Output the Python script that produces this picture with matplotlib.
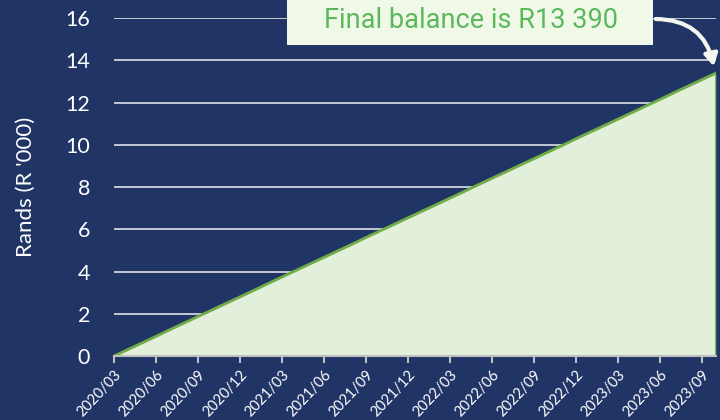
import matplotlib
matplotlib.use("Agg")
import matplotlib.pyplot as plt
from matplotlib.patches import FancyArrowPatch, Rectangle
import pandas as pd

# Month-end balance of the savings account, in R '000
months = [str(p).replace("-", "/") for p in pd.period_range("2020-03", "2023-10", freq="M")]
balance = [0.00, 0.31, 0.62, 0.93, 1.25, 1.56, 1.87, 2.18, 2.49, 2.80,
           3.11, 3.43, 3.74, 4.05, 4.36, 4.67, 4.98, 5.29, 5.61, 5.92,
           6.23, 6.54, 6.85, 7.16, 7.47, 7.78, 8.10, 8.41, 8.72, 9.03,
           9.34, 9.65, 9.96, 10.28, 10.59, 10.90, 11.21, 11.52, 11.83, 12.14,
           12.46, 12.77, 13.08, 13.39]
tick_labels = ["2020/03", "2020/06", "2020/09", "2020/12", "2021/03", "2021/06",
               "2021/09", "2021/12", "2022/03", "2022/06", "2022/09", "2022/12",
               "2023/03", "2023/06", "2023/09"]
y_ticks = [0, 2, 4, 6, 8, 10, 12, 14, 16]
note = "Final balance is R13 390"

NAVY = "#203566"
FILL = "#e2efda"
GREEN = "#70ad47"
TEXT_GREEN = "#5cb85c"
BOX = "#f0f9e8"

plt.rcParams["font.family"] = ["Lato", "DejaVu Sans"]

fig = plt.figure(figsize=(7.2, 4.2), dpi=100, facecolor=NAVY)
ax = fig.add_axes([0.158, 0.152, 0.836, 0.805], facecolor=NAVY)

x = list(range(len(months)))
ax.set_xlim(0, len(months) - 1)
ax.set_ylim(0, 16)

for v in y_ticks[1:]:
    ax.axhline(v, color="#d0d4dc", linewidth=1.3, zorder=1)

ax.fill_between(x, 0, balance, color=FILL, zorder=2, linewidth=0)
ax.plot(x, balance, color=GREEN, linewidth=2, zorder=3)
ax.plot([x[-1], x[-1]], [0, balance[-1]], color=GREEN, linewidth=2, zorder=3)

for s in ["top", "right", "left"]:
    ax.spines[s].set_visible(False)
ax.spines["bottom"].set_color("#bfbfbf")
ax.spines["bottom"].set_linewidth(1.5)
ax.spines["bottom"].set_zorder(4)

ax.set_yticks(y_ticks)
ax.set_yticklabels([str(v) for v in y_ticks])
ax.tick_params(axis="y", length=0, colors="white", labelsize=15.5, pad=17)

tick_pos = [months.index(t) for t in tick_labels]
ax.set_xticks(tick_pos)
ax.set_xticklabels(tick_labels, rotation=47, ha="right", rotation_mode="anchor")
ax.tick_params(axis="x", length=5, width=1.5, color="#bfbfbf",
               labelcolor="white", labelsize=10.5, pad=3)

ax.set_ylabel("Rands (R '000)", color="white", fontsize=16, labelpad=21)

# Callout box with the closing balance, clipped by the top edge of the figure
W, H = 720, 420
fig.patches.append(Rectangle((287 / W, 1 - 45 / H), (653 - 287) / W, 50 / H,
                             transform=fig.transFigure, facecolor=BOX,
                             edgecolor="none", zorder=9))
fig.text(471 / W, 1 - 20 / H, note, color=TEXT_GREEN, fontsize=19.5,
         family=["Roboto", "DejaVu Sans"], ha="center", va="center", zorder=10)

arrow = FancyArrowPatch(
    posA=(653, H - 19),
    posB=ax.transData.transform((x[-1] - 0.1, balance[-1] + 0.2)),
    transform=None, connectionstyle="arc3,rad=-0.42",
    arrowstyle="-|>,head_length=7,head_width=4",
    color="#f2f6ee", linewidth=3, zorder=10)
fig.patches.append(arrow)

fig.savefig("out.png", dpi=100, facecolor=NAVY)
